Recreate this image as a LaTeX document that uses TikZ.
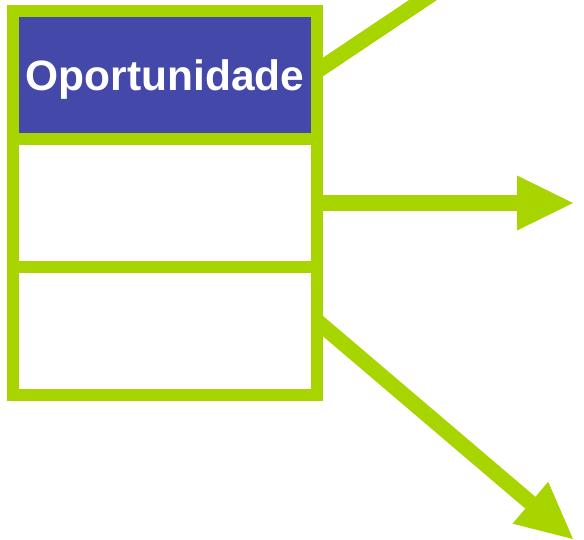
\documentclass[tikz,border=0pt]{standalone}
\usepackage{fontspec}
\setmainfont{Liberation Sans}
\usetikzlibrary{arrows.meta}
\definecolor{lime}{RGB}{168,212,0}
\definecolor{slateblue}{RGB}{68,72,168}
\tikzset{
  cell/.style={draw=lime, line width=12pt, minimum width=304pt, minimum height=128pt,
    inner sep=0pt, outer sep=0pt, fill=white},
  link/.style={draw=lime, line width=15.5pt},
  arrowlink/.style={link, -{Triangle[length=56pt,width=55pt,line width=0pt]}}
}
\begin{document}
\begin{tikzpicture}[x=1pt,y=-1pt]
\useasboundingbox (0,0) rectangle (584,539);
\clip (0,0) rectangle (584,539);
\coordinate (upend) at (476,-35.5);
\coordinate (midtip) at (573,203);
\coordinate (lowtip) at (573,539);
\node[cell, fill=slateblue, text=white, text depth=0pt,
  font=\fontsize{42.5}{50}\selectfont\bfseries] (top) at (165,75) {Oportunidade};
\node[cell] (mid) at (165,203) {};
\node[cell] (bot) at (165,331) {};
\draw[link] ([yshift=4pt]top.east) -- (upend);
\draw[arrowlink] (mid.east) -- (midtip);
\draw[arrowlink] ([yshift=10pt]bot.east) -- (lowtip);
\end{tikzpicture}
\end{document}
